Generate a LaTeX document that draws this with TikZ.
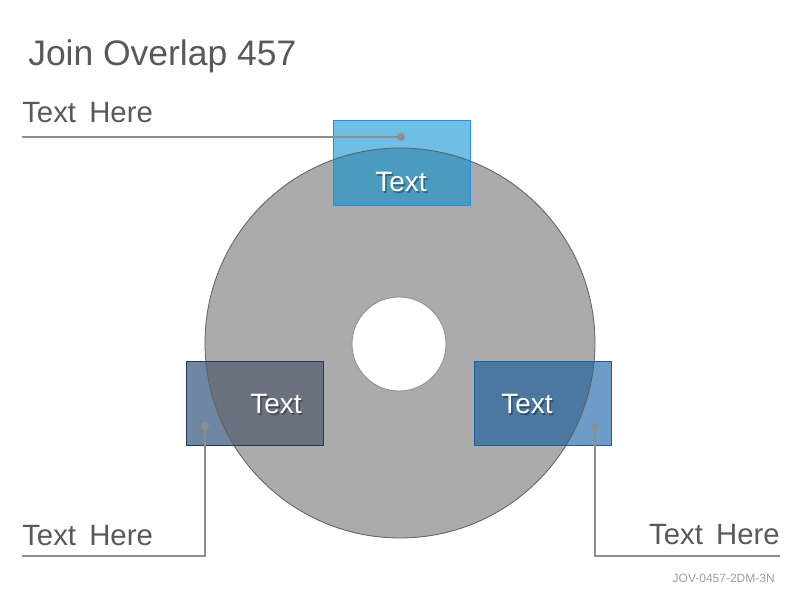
\documentclass[tikz,border=0pt]{standalone}
\usepackage{fontspec}
\setmainfont{Liberation Sans}
\definecolor{titlegray}{HTML}{595959}
\definecolor{ringgray}{HTML}{ABABAB}
\definecolor{ringline}{HTML}{5E5E5E}
\definecolor{leadgray}{HTML}{8E8E8E}
\definecolor{topout}{HTML}{6DBFE5}
\definecolor{topin}{HTML}{4A9BBF}
\definecolor{topedge}{HTML}{1E90F0}
\definecolor{leftout}{HTML}{6E87A3}
\definecolor{leftin}{HTML}{6A7280}
\definecolor{leftedge}{HTML}{1F3A5F}
\definecolor{rightout}{HTML}{6E9CC8}
\definecolor{rightin}{HTML}{4A78A0}
\definecolor{rightedge}{HTML}{1F5C99}
\definecolor{footgray}{HTML}{A0A0A0}
\tikzset{
  boxtext/.style={text=white,font=\fontsize{21}{25}\selectfont,inner sep=0pt},
  boxshadow/.style={text=black,opacity=0.35,font=\fontsize{21}{25}\selectfont,inner sep=0pt},
  labeltext/.style={text=titlegray,font=\fontsize{22}{26}\selectfont,inner sep=0pt},
  lead/.style={draw=leadgray,line width=2pt},
  dot/.style={fill=leadgray},
}
\begin{document}
\begin{tikzpicture}[x=0.75pt,y=-0.75pt]
\useasboundingbox (0,0) rectangle (800,600);
\fill[white] (0,0) rectangle (800,600);
% title
\node[anchor=west,text=titlegray,font=\fontsize{26.6}{30}\selectfont,inner sep=0pt] (title) at (28,56) {Join Overlap 457};
% ring
\fill[ringgray,even odd rule] (400,343) circle (195) (399,344) circle (47);
% boxes outside parts
\fill[topout] (333,120) rectangle (470,205);
\fill[leftout] (186,361) rectangle (323,445);
\fill[rightout] (474,361) rectangle (611,445);
\begin{scope}
\clip (400,343) circle (195);
\fill[topin] (333,120) rectangle (470,205);
\fill[leftin] (186,361) rectangle (323,445);
\fill[rightin] (474,361) rectangle (611,445);
\end{scope}
\draw[ringline,line width=0.6pt] (400,343) circle (195);
\draw[ringline!70,line width=0.6pt] (399,344) circle (47);
\draw[topedge,line width=0.6pt] (333,120) rectangle (470,205);
\draw[leftedge,line width=0.6pt] (186,361) rectangle (323,445);
\draw[rightedge,line width=0.6pt] (474,361) rectangle (611,445);
% box texts
\node[boxshadow] at (402.5,184) {Text};
\node[boxtext] (ttop) at (401,182) {Text};
\node[boxshadow] at (277.5,406) {Text};
\node[boxtext] (tleft) at (276,404) {Text};
\node[boxshadow] at (528.5,406) {Text};
\node[boxtext] (tright) at (527,404) {Text};
% labels
\node[labeltext,anchor=west] (l1) at (22,113) {Text\hspace{0.45em}Here};
\node[labeltext,anchor=west] (l2) at (22,536) {Text\hspace{0.45em}Here};
\node[labeltext,anchor=east] (l3) at (780,535) {Text\hspace{0.45em}Here};
% leader lines
\coordinate (d1) at (401,137);
\coordinate (e1) at (22,137);
\coordinate (d2) at (205,426);
\coordinate (c2) at (205,556);
\coordinate (e2) at (22,556);
\coordinate (d3) at (595,427);
\coordinate (c3) at (595,556);
\coordinate (e3) at (780,556);
\draw[lead] (e1) -- (d1);
\draw[lead] (e2) -- (c2) -- (d2);
\draw[lead] (e3) -- (c3) -- (d3);
\fill[dot] (d1) circle (4);
\fill[dot] (d2) circle (4);
\fill[dot] (d3) circle (4);
% footer
\node[anchor=east,text=footgray,font=\fontsize{9}{11}\selectfont,inner sep=0pt] (foot) at (775,578) {JOV-0457-2DM-3N};
\end{tikzpicture}
\end{document}
